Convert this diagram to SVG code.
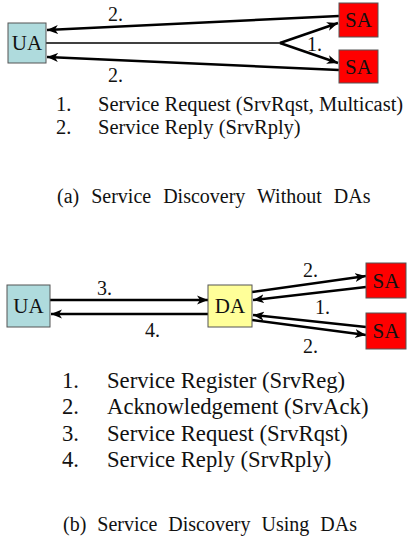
<svg xmlns="http://www.w3.org/2000/svg" width="412" height="541" viewBox="0 0 412 541">
<style>
text { font-family: "Liberation Serif", "Times New Roman", serif; font-size: 20px; fill: #111; }
.node text { text-anchor: middle; font-size: 21px; }
.ua { fill: #afdbdd; stroke: #555; stroke-width: 1; }
.da { fill: #ffff99; stroke: #555; stroke-width: 1; }
.sa { fill: #ff0000; stroke: #555; stroke-width: 1; }
.c { fill: none; stroke: #000; stroke-width: 2.5; }
.thin { stroke-width: 1.5; }
.la { font-size: 20.5px; }
.lb { font-size: 22.7px; }
.cap { word-spacing: 6px; }
</style>
<defs>
<marker id="ah" markerUnits="userSpaceOnUse" markerWidth="12" markerHeight="10" refX="11" refY="5" orient="auto" viewBox="0 0 12 10">
<path d="M0,0.5 L11,5 L0,9.5 L3,5 z" fill="#000"/>
</marker>
</defs>
<rect width="412" height="541" fill="#fff"/>

<g id="connectors">
<line class="c" x1="339" y1="16" x2="47" y2="30" marker-end="url(#ah)"/>
<line class="c" x1="339" y1="70" x2="47" y2="57" marker-end="url(#ah)"/>
<line class="c thin" x1="46" y1="43" x2="281" y2="43"/>
<line class="c" x1="280" y1="43" x2="338" y2="23" marker-end="url(#ah)"/>
<line class="c" x1="280" y1="43" x2="338" y2="63" marker-end="url(#ah)"/>

<line class="c" stroke-width="3" x1="50" y1="300" x2="208" y2="300" marker-end="url(#ah)"/>
<line class="c" stroke-width="2" x1="208" y1="314" x2="51" y2="314" marker-end="url(#ah)"/>
<line class="c" x1="252" y1="292" x2="366" y2="276" marker-end="url(#ah)"/>
<line class="c" x1="366" y1="287" x2="253" y2="300" marker-end="url(#ah)"/>
<line class="c" x1="366" y1="327" x2="253" y2="315" marker-end="url(#ah)"/>
<line class="c" x1="252" y1="320" x2="366" y2="335" marker-end="url(#ah)"/>

<text x="108" y="21">2.</text>
<text x="108" y="82">2.</text>
<text x="307" y="51">1.</text>
<text x="97" y="295">3.</text>
<text x="145" y="337">4.</text>
<text x="303" y="277">2.</text>
<text x="315" y="314">1.</text>
<text x="303" y="353">2.</text>
</g>

<g id="ua1" class="node"><rect class="ua" x="8" y="23" width="38" height="40"/><text x="27" y="50">UA</text></g>
<g id="sa1" class="node"><rect class="sa" x="339" y="3" width="39" height="34"/><text x="358.5" y="27">SA</text></g>
<g id="sa2" class="node"><rect class="sa" x="339" y="50" width="39" height="33"/><text x="358.5" y="74">SA</text></g>

<g id="ua2" class="node"><rect class="ua" x="7" y="285" width="43" height="42"/><text x="28.5" y="313">UA</text></g>
<g id="da" class="node"><rect class="da" x="208" y="285" width="44" height="42"/><text x="230" y="313">DA</text></g>
<g id="sa3" class="node"><rect class="sa" x="366" y="263" width="40" height="35"/><text x="386" y="288">SA</text></g>
<g id="sa4" class="node"><rect class="sa" x="366" y="313" width="40" height="36"/><text x="386" y="338">SA</text></g>

<g id="legend-a" class="la">
<text class="la" x="56" y="111">1.</text><text class="la" x="98" y="111">Service Request (SrvRqst, Multicast)</text>
<text class="la" x="56" y="134">2.</text><text class="la" x="98" y="134">Service Reply (SrvRply)</text>
<text class="cap" x="57" y="203" style="word-spacing:7px">(a) Service Discovery Without DAs</text>
</g>
<g id="legend-b">
<text class="lb" x="62" y="388">1.</text><text class="lb" x="107" y="388">Service Register (SrvReg)</text>
<text class="lb" x="62" y="414">2.</text><text class="lb" x="107" y="414">Acknowledgement (SrvAck)</text>
<text class="lb" x="62" y="441">3.</text><text class="lb" x="107" y="441">Service Request (SrvRqst)</text>
<text class="lb" x="62" y="467">4.</text><text class="lb" x="107" y="467">Service Reply (SrvRply)</text>
<text class="cap" x="63" y="531">(b) Service Discovery Using DAs</text>
</g>
</svg>
